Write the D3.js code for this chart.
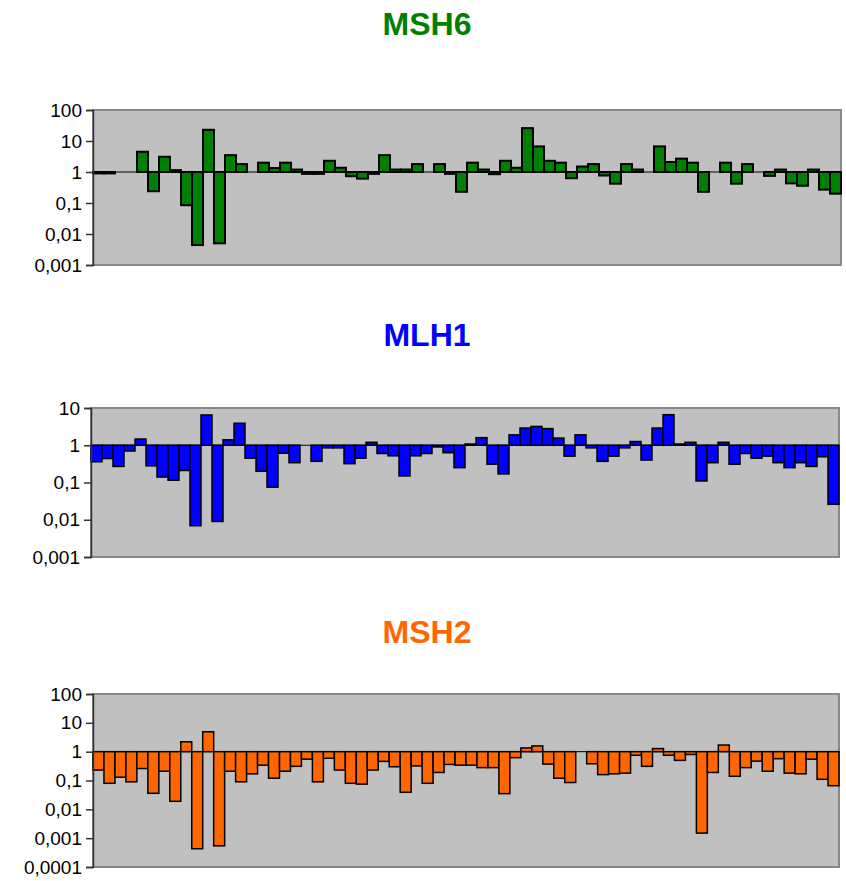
<!DOCTYPE html>
<html>
<head>
<meta charset="utf-8">
<script src="https://cdn.jsdelivr.net/npm/d3@7"></script>
<style>
  body { margin: 0; background: #fff; }
  svg { display: block; font-family: Arial, "Liberation Sans", sans-serif; }
</style>
</head>
<body>
<div id="chart"></div>
<script>
// 68 probes, no labels on the x axis
const categories = d3.range(1, 69)

const msh6 = [0.9, 0.9, 1, 1, 4.5, 0.24, 3.1, 1.15, 0.085, 0.0044, 23, 0.005, 3.5, 1.8, 1, 2.0, 1.34, 2.0, 1.2, 0.87,
  0.87, 2.3, 1.37, 0.73, 0.61, 0.87, 3.5, 1.2, 1.2, 1.8, 1, 1.8, 0.87, 0.23, 2.0, 1.2, 0.85, 2.3, 1.37, 26,
  6.7, 2.3, 2.0, 0.63, 1.5, 1.8, 0.77, 0.42, 1.8, 1.2, 1, 6.7, 2.1, 2.7, 2.0, 0.23, 1, 2.0, 0.42, 1.8,
  1, 0.75, 1.2, 0.43, 0.36, 1.2, 0.27, 0.2]

const mlh1 = [0.36, 0.44, 0.27, 0.7, 1.47, 0.28, 0.14, 0.115, 0.21, 0.0069, 6.5, 0.009, 1.4, 3.9, 0.45, 0.2, 0.075, 0.61, 0.34, 1,
  0.37, 0.85, 0.85, 0.32, 0.45, 1.2, 0.6, 0.52, 0.15, 0.52, 0.6, 0.9, 0.63, 0.25, 1.08, 1.6, 0.31, 0.17, 1.9, 2.9,
  3.2, 2.8, 1.56, 0.51, 1.9, 0.85, 0.37, 0.51, 0.85, 1.26, 0.4, 2.9, 6.6, 1.08, 1.2, 0.11, 0.34, 1.2, 0.31, 0.6,
  0.45, 0.51, 0.34, 0.25, 0.34, 0.27, 0.49, 0.026]

const msh2 = [0.23, 0.08, 0.13, 0.09, 0.26, 0.036, 0.21, 0.019, 2.2, 0.00043, 4.9, 0.00054, 0.21, 0.09, 0.17, 0.34, 0.12, 0.21, 0.31, 0.55,
  0.09, 0.59, 0.23, 0.08, 0.075, 0.23, 0.46, 0.3, 0.039, 0.32, 0.08, 0.19, 0.36, 0.34, 0.34, 0.28, 0.28, 0.035, 0.62, 1.35,
  1.58, 0.37, 0.12, 0.085, 1, 0.38, 0.16, 0.17, 0.18, 0.75, 0.31, 1.28, 0.75, 0.5, 0.8, 0.0015, 0.19, 1.7, 0.14, 0.28,
  0.47, 0.21, 0.57, 0.18, 0.17, 0.55, 0.11, 0.066]

const ticks6 = [0.001, 0.01, 0.1, 1, 10, 100]
const ticks1 = [0.001, 0.01, 0.1, 1, 10]
const ticks2 = [0.0001, 0.001, 0.01, 0.1, 1, 10, 100]

const width = 846
const height = 881

const panels = [
  { title: 'MSH6', values: msh6, ticks: ticks6, color: '#008000', titleY: 35, x0: 93, x1: 841, y0: 110, y1: 265, sw: 2 },
  { title: 'MLH1', values: mlh1, ticks: ticks1, color: '#0000FF', titleY: 346, x0: 91, x1: 839, y0: 408, y1: 557, sw: 1.5 },
  { title: 'MSH2', values: msh2, ticks: ticks2, color: '#FF6600', titleY: 643, x0: 93, x1: 839, y0: 694, y1: 867, sw: 1.5 }
]

const fmt = d => String(d).replace('.', ',')

const svg = d3.select('#chart')
  .append('svg')
  .attr('width', width)
  .attr('height', height)

panels.forEach(p => {
  const g = svg.append('g')

  const x = d3.scaleBand()
    .domain(categories)
    .range([p.x0, p.x1])
    .padding(0)

  const y = d3.scaleLog()
    .domain([p.ticks[0], p.ticks[p.ticks.length - 1]])
    .range([p.y1, p.y0])

  // title
  g.append('text')
    .attr('x', 427)
    .attr('y', p.titleY)
    .attr('text-anchor', 'middle')
    .attr('font-size', 32)
    .attr('font-weight', 'bold')
    .attr('fill', p.color)
    .text(p.title)

  // plot area
  g.append('rect')
    .attr('x', p.x0)
    .attr('y', p.y0)
    .attr('width', p.x1 - p.x0)
    .attr('height', p.y1 - p.y0)
    .attr('fill', '#C0C0C0')
    .attr('stroke', '#888888')
    .attr('stroke-width', 2)

  // baseline at 1
  g.append('line')
    .attr('x1', p.x0)
    .attr('x2', p.x1)
    .attr('y1', y(1))
    .attr('y2', y(1))
    .attr('stroke', '#000')
    .attr('stroke-width', 1)

  // bars grow from 1
  g.selectAll('rect.bar')
    .data(p.values)
    .enter()
    .append('rect')
    .attr('class', 'bar')
    .attr('x', (d, i) => x(categories[i]))
    .attr('width', x.bandwidth())
    .attr('y', d => Math.min(y(d), y(1)))
    .attr('height', d => Math.abs(y(d) - y(1)))
    .attr('fill', p.color)
    .attr('stroke', d => d === 1 ? 'none' : '#000')
    .attr('stroke-width', p.sw)

  // y axis
  const axis = d3.axisLeft(y)
    .tickValues(p.ticks)
    .tickFormat(fmt)
    .tickSize(7)
    .tickPadding(4)

  const ag = g.append('g')
    .attr('transform', 'translate(' + p.x0 + ',0)')
    .call(axis)

  ag.select('.domain').attr('stroke', '#333').attr('stroke-width', 1.5)
  ag.selectAll('.tick line').attr('stroke', '#333').attr('stroke-width', 1.5)
  ag.selectAll('.tick text')
    .attr('font-size', 19)
    .attr('font-family', 'Arial, "Liberation Sans", sans-serif')
    .attr('fill', '#000')
})
</script>
</body>
</html>
